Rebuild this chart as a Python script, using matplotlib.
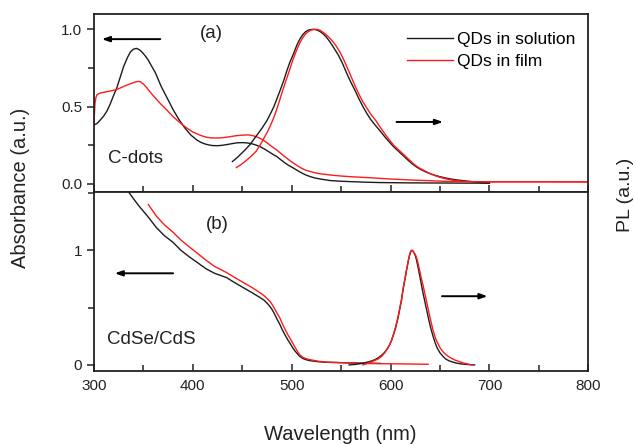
import numpy as np
import matplotlib
matplotlib.use('Agg')
import matplotlib.pyplot as plt
from matplotlib.ticker import MultipleLocator, FormatStrFormatter

plt.rcParams['font.family'] = ['Liberation Sans', 'DejaVu Sans']

# (a) C-dots, absorbance
cdot_abs_sol_wl = [300, 303, 306, 310, 313, 316, 320, 323, 326, 330, 334, 337, 340, 343, 346, 349, 352,
                   355, 358, 362, 368, 374, 380, 386, 392, 398, 404, 408, 412, 416, 420, 425, 430,
                   435, 440, 445, 451, 456, 460, 464, 468, 472, 476, 480, 485, 489, 493, 497, 502,
                   506, 510, 514, 519, 524, 529, 539, 549, 560, 572, 590, 620, 660, 700]
cdot_abs_sol = [0.38, 0.39, 0.41, 0.44, 0.47, 0.51, 0.575, 0.62, 0.68, 0.76, 0.82, 0.855, 0.872, 0.877,
                0.868, 0.85, 0.827, 0.80, 0.765, 0.72, 0.63, 0.555, 0.48, 0.415, 0.36, 0.315, 0.283,
                0.268, 0.258, 0.251, 0.247, 0.246, 0.249, 0.254, 0.26, 0.265, 0.266, 0.263, 0.258,
                0.25, 0.24, 0.226, 0.21, 0.194, 0.175, 0.155, 0.135, 0.118, 0.10, 0.084, 0.07, 0.057,
                0.045, 0.036, 0.03, 0.02, 0.016, 0.013, 0.01, 0.007, 0.005, 0.004, 0.003]
cdot_abs_film_wl = [300, 300.5, 301, 302, 303, 305, 308, 312, 316, 323, 330, 336, 340, 343, 345, 347,
                    350, 353, 356, 360, 367, 374, 380, 387, 394, 400, 407, 411, 414, 418, 421, 425,
                    430, 435, 440, 445, 451, 456, 460, 464, 468, 472, 476, 480, 485, 489, 493, 497,
                    502, 506, 510, 514, 519, 524, 529, 539, 549, 560, 580, 600, 620, 640, 660, 700,
                    750, 800]
cdot_abs_film = [0.40, 0.46, 0.52, 0.56, 0.575, 0.585, 0.59, 0.595, 0.60, 0.61, 0.63, 0.646, 0.655,
                 0.661, 0.663, 0.66, 0.645, 0.625, 0.60, 0.57, 0.52, 0.475, 0.434, 0.395, 0.36,
                 0.335, 0.315, 0.306, 0.301, 0.297, 0.296, 0.296, 0.298, 0.302, 0.307, 0.312, 0.315,
                 0.316, 0.312, 0.305, 0.294, 0.279, 0.26, 0.24, 0.218, 0.196, 0.175, 0.155, 0.132,
                 0.115, 0.10, 0.088, 0.078, 0.07, 0.064, 0.056, 0.05, 0.045, 0.038, 0.03, 0.024,
                 0.019, 0.014, 0.012, 0.012, 0.011]

# (a) C-dots, PL
cdot_pl_sol_wl = [440, 445, 449, 453, 458, 462, 466, 470, 475, 479, 482, 485, 488, 492, 495, 498, 502,
                  505, 508, 511, 514, 517, 520, 523, 526, 529, 532, 535, 538, 541, 544, 547, 551,
                  556, 560, 564, 568, 572, 576, 580, 585, 589, 594, 598, 603, 608, 613, 618, 623,
                  627, 631, 636, 640, 645, 650, 657, 663, 670, 678, 685, 692, 700]
cdot_pl_sol = [0.143, 0.17, 0.195, 0.22, 0.255, 0.29, 0.325, 0.36, 0.41, 0.46, 0.50, 0.55, 0.60, 0.67,
               0.73, 0.785, 0.845, 0.895, 0.935, 0.965, 0.985, 0.996, 1.0, 1.0, 0.995, 0.985, 0.97,
               0.95, 0.925, 0.897, 0.866, 0.835, 0.785, 0.71, 0.655, 0.605, 0.55, 0.50, 0.455,
               0.415, 0.375, 0.345, 0.305, 0.275, 0.24, 0.21, 0.18, 0.15, 0.123, 0.105, 0.09,
               0.075, 0.065, 0.054, 0.045, 0.035, 0.028, 0.022, 0.016, 0.011, 0.007, 0.004]
cdot_pl_film_wl = [444, 449, 454, 459, 464, 468, 471, 475, 478, 482, 485, 488, 491, 494, 498, 501, 505,
                   508, 511, 514, 517, 520, 523, 526, 529, 532, 535, 539, 542, 545, 549, 552, 556,
                   560, 564, 568, 572, 576, 580, 585, 589, 594, 598, 603, 608, 613, 618, 623, 627,
                   631, 636, 640, 645, 650, 657, 663, 670, 680, 690, 720, 760, 800]
cdot_pl_film = [0.104, 0.125, 0.15, 0.178, 0.21, 0.25, 0.285, 0.33, 0.37, 0.43, 0.485, 0.545, 0.607,
                0.665, 0.74, 0.80, 0.866, 0.91, 0.945, 0.97, 0.987, 0.997, 1.0, 1.0, 0.993, 0.98,
                0.965, 0.94, 0.918, 0.892, 0.85, 0.812, 0.755, 0.695, 0.635, 0.58, 0.53, 0.49, 0.45,
                0.41, 0.37, 0.325, 0.29, 0.25, 0.22, 0.19, 0.16, 0.13, 0.11, 0.095, 0.078, 0.065,
                0.052, 0.041, 0.03, 0.022, 0.017, 0.013, 0.012, 0.012, 0.012, 0.012]

# (b) CdSe/CdS, absorbance
cdse_abs_sol_wl = [335, 340, 346.5, 355, 363, 371, 380, 388, 397, 406, 414, 422, 434, 442, 451, 460,
                   468, 472, 475, 478, 480, 482, 484, 486, 488, 490, 493, 496, 498, 501, 503, 506,
                   508, 511, 513, 516, 518, 527, 535, 549, 565, 580, 590]
cdse_abs_sol = [1.51, 1.45, 1.377, 1.29, 1.20, 1.13, 1.07, 1.00, 0.94, 0.885, 0.836, 0.80, 0.763, 0.72,
                0.675, 0.63, 0.588, 0.565, 0.54, 0.51, 0.485, 0.455, 0.42, 0.385, 0.354, 0.315,
                0.265, 0.22, 0.193, 0.15, 0.125, 0.095, 0.076, 0.058, 0.05, 0.042, 0.038, 0.028,
                0.023, 0.02, 0.017, 0.015, 0.013]
cdse_abs_film_wl = [355, 363, 371, 380, 388, 397, 406, 414, 422, 434, 442, 451, 460, 468, 472, 475,
                    478, 480, 482, 484, 486, 488, 490, 493, 496, 498, 501, 503, 506, 508, 511, 513,
                    516, 518, 527, 535, 549, 570, 600, 620, 638]
cdse_abs_film = [1.40, 1.30, 1.225, 1.158, 1.09, 1.026, 0.965, 0.91, 0.86, 0.807, 0.765, 0.72, 0.675,
                 0.63, 0.605, 0.58, 0.555, 0.53, 0.50, 0.47, 0.44, 0.41, 0.37, 0.315, 0.265, 0.237,
                 0.19, 0.16, 0.115, 0.09, 0.068, 0.06, 0.051, 0.047, 0.032, 0.025, 0.02, 0.013,
                 0.01, 0.008, 0.006]

# (b) CdSe/CdS, PL
cdse_pl_sol_wl = [558, 565, 572, 579, 584, 588, 591, 594, 597, 599, 601, 603, 605, 607, 608, 610, 611,
                  612, 613, 614, 615, 616, 617, 618, 619, 620, 621, 622, 623, 624, 625, 626, 627,
                  628, 629, 630, 631, 633, 635, 637, 639, 641, 643, 645, 647, 650, 653, 656, 660,
                  666, 672, 680, 685]
cdse_pl_sol = [0.0, 0.005, 0.015, 0.03, 0.045, 0.065, 0.085, 0.11, 0.145, 0.175, 0.215, 0.265, 0.32,
               0.39, 0.43, 0.52, 0.56, 0.62, 0.675, 0.72, 0.77, 0.82, 0.865, 0.91, 0.95, 0.98, 0.998,
               1.0, 0.99, 0.975, 0.955, 0.925, 0.885, 0.845, 0.80, 0.755, 0.71, 0.62, 0.54, 0.46,
               0.38, 0.31, 0.25, 0.195, 0.15, 0.105, 0.075, 0.05, 0.033, 0.017, 0.008, 0.002, 0.0]
cdse_pl_film_wl = [572, 580, 587, 591, 594, 597, 599, 601, 603, 605, 607, 608, 610, 611, 612, 613, 614,
                   615, 616, 617, 618, 619, 620, 621, 622, 623, 624, 625.5, 627, 628, 630, 631, 633,
                   634, 637, 640, 643, 646, 650, 653, 656, 660, 665, 670, 676, 682]
cdse_pl_film = [0.0, 0.025, 0.05, 0.075, 0.105, 0.145, 0.175, 0.215, 0.27, 0.33, 0.40, 0.44, 0.53,
                0.57, 0.63, 0.685, 0.73, 0.775, 0.825, 0.87, 0.915, 0.955, 0.985, 1.0, 1.0, 0.99,
                0.977, 0.955, 0.915, 0.88, 0.80, 0.76, 0.69, 0.65, 0.53, 0.41, 0.30, 0.22, 0.15,
                0.115, 0.09, 0.065, 0.043, 0.027, 0.012, 0.0]

black = '#1c1c1c'
red = '#ff1a1a'
lw = 1.0

fig = plt.figure(figsize=(6.36, 4.44), dpi=100)
ax1 = fig.add_axes([0.1478, 0.5676, 0.7772, 0.4009])
ax2 = fig.add_axes([0.1478, 0.1644, 0.7772, 0.4032], sharex=ax1)

ax1.plot(cdot_abs_sol_wl, cdot_abs_sol, color=black, lw=lw)
ax1.plot(cdot_abs_film_wl, cdot_abs_film, color=red, lw=lw)
ax1.plot(cdot_pl_sol_wl, cdot_pl_sol, color=black, lw=lw, label='QDs in solution')
ax1.plot(cdot_pl_film_wl, cdot_pl_film, color=red, lw=lw, label='QDs in film')

ax2.plot(cdse_abs_sol_wl, cdse_abs_sol, color=black, lw=lw)
ax2.plot(cdse_abs_film_wl, cdse_abs_film, color=red, lw=lw)
ax2.plot(cdse_pl_sol_wl, cdse_pl_sol, color=black, lw=lw)
ax2.plot(cdse_pl_film_wl, cdse_pl_film, color=red, lw=lw)

ax1.set_xlim(300, 800)
ax1.set_ylim(-0.054, 1.1)
ax2.set_ylim(-0.053, 1.51)

for ax in (ax1, ax2):
    for s in ax.spines.values():
        s.set_linewidth(1.3)
        s.set_color('#222222')
    ax.xaxis.set_major_locator(MultipleLocator(100))
    ax.xaxis.set_minor_locator(MultipleLocator(50))
    ax.tick_params(axis='x', which='both', direction='in', top=False, width=1.1, colors='#222222')
    ax.tick_params(axis='x', which='major', length=5)
    ax.tick_params(axis='x', which='minor', length=4)
    ax.tick_params(axis='y', which='both', direction='out', right=False, width=1.1, colors='#222222',
                   labelsize=11)
    ax.tick_params(axis='y', which='major', length=5)
    ax.tick_params(axis='y', which='minor', length=4.5)

ax1.tick_params(axis='x', labelbottom=False)
ax2.tick_params(axis='x', labelsize=11, pad=6)
ax1.yaxis.set_major_locator(MultipleLocator(0.5))
ax1.yaxis.set_minor_locator(MultipleLocator(0.25))
ax1.yaxis.set_major_formatter(FormatStrFormatter('%.1f'))
ax2.yaxis.set_major_locator(MultipleLocator(1))
ax2.yaxis.set_minor_locator(MultipleLocator(0.5))
ax2.yaxis.set_major_formatter(FormatStrFormatter('%d'))

# arrows
arrow = dict(arrowstyle='-|>,head_length=0.45,head_width=0.16', color='black', lw=1.4, shrinkA=0, shrinkB=0)
ax1.annotate('', xy=(308, 0.937), xytext=(367, 0.937), arrowprops=arrow)
ax1.annotate('', xy=(653, 0.40), xytext=(606, 0.40), arrowprops=arrow)
ax2.annotate('', xy=(321, 0.80), xytext=(380, 0.80), arrowprops=arrow)
ax2.annotate('', xy=(698, 0.60), xytext=(652, 0.60), arrowprops=arrow)

ax1.text(419, 0.975, '(a)', fontsize=13.5, ha='center', va='center', color='#222222')
ax2.text(425, 1.23, '(b)', fontsize=13.5, ha='center', va='center', color='#222222')
ax1.text(314, 0.16, 'C-dots', fontsize=13.5, ha='left', va='center', color='#222222')
ax2.text(313, 0.22, 'CdSe/CdS', fontsize=13.5, ha='left', va='center', color='#222222')

ax1.legend(loc='upper left', bbox_to_anchor=(0.62, 0.94), frameon=False, fontsize=12.5,
           handlelength=2.6, handletextpad=0.25, labelspacing=0.43, borderaxespad=0)

fig.text(0.033, 0.577, 'Absorbance (a.u.)', rotation=90, fontsize=14.5, ha='center', va='center',
         color='#222222')
fig.text(0.983, 0.562, 'PL (a.u.)', rotation=90, fontsize=14, ha='center', va='center', color='#222222')
fig.text(0.535, 0.022, 'Wavelength (nm)', fontsize=14.5, ha='center', va='center', color='#222222')

fig.savefig('out.png', dpi=100)
